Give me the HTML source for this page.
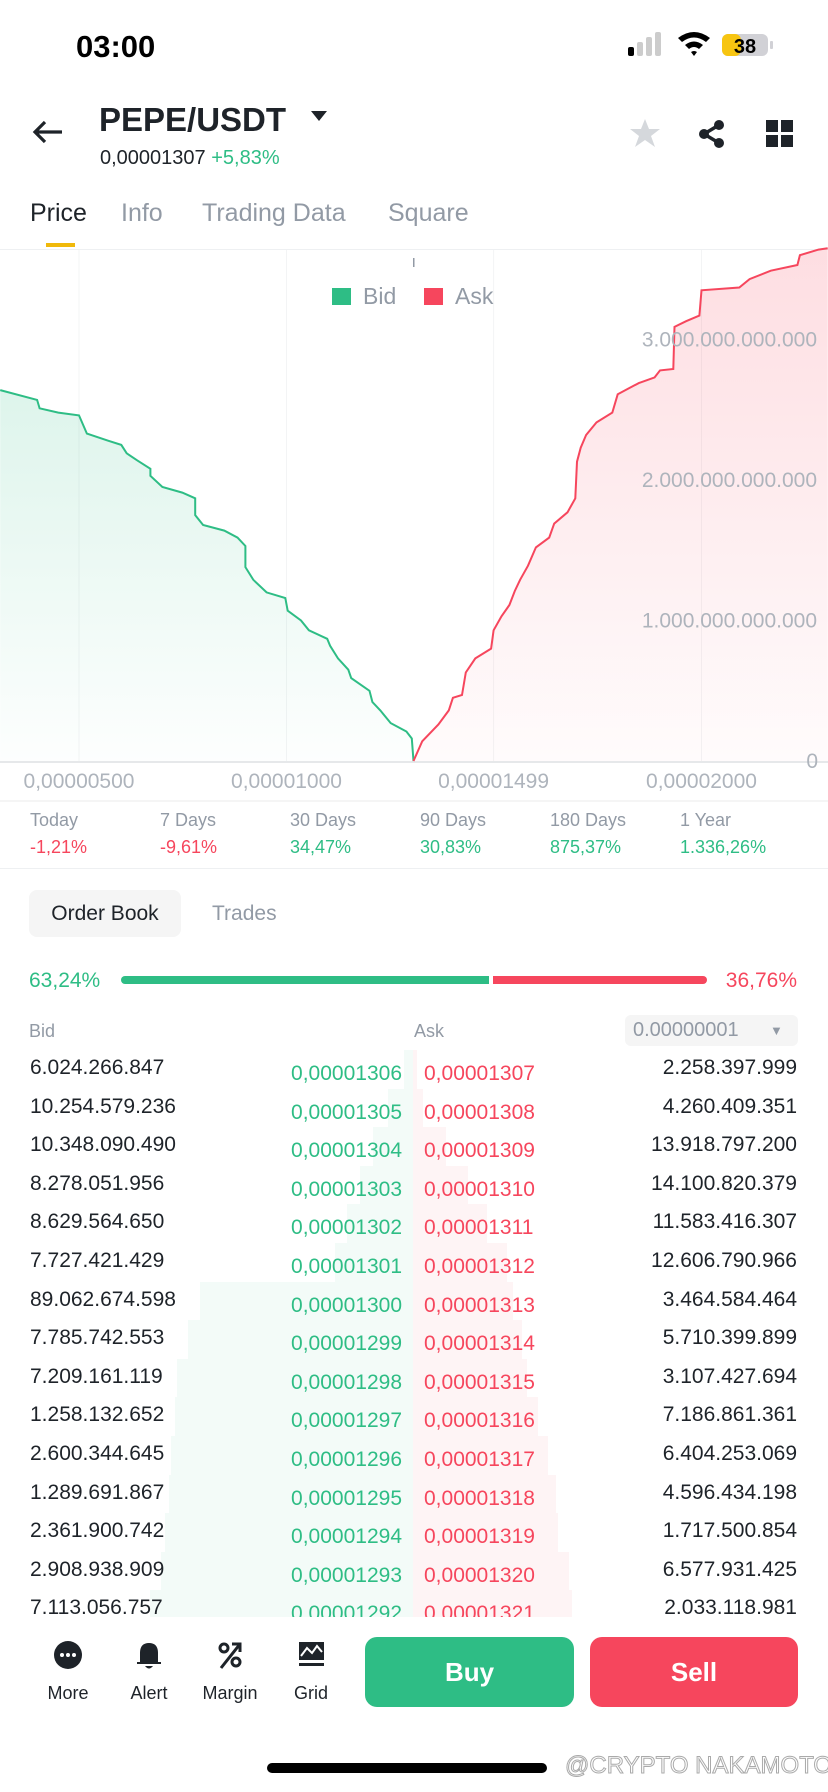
<!DOCTYPE html>
<html><head><meta charset="utf-8"><style>
*{margin:0;padding:0;box-sizing:border-box}
body{width:828px;height:1792px;background:#fff;font-family:"Liberation Sans",sans-serif;position:relative;overflow:hidden;color:#1E2329}
.a{position:absolute;white-space:nowrap}
.g{color:#2EBD85}.r{color:#F6465D}.m{color:#929AA5}
.row{position:absolute;left:0;width:828px;height:38.6px;font-size:21px;line-height:38.6px}
</style></head><body>
<div class="a" style="left:76px;top:29px;font-size:31px;font-weight:bold;color:#000">03:00</div>
<svg class="a" style="left:620px;top:30px" width="160" height="34">
<rect x="8" y="17" width="6" height="9" rx="2" fill="#000"/><rect x="17" y="12" width="6" height="14" rx="2" fill="#ccc"/><rect x="26" y="7" width="6" height="19" rx="2" fill="#ccc"/><rect x="35" y="2" width="6" height="24" rx="2" fill="#ccc"/>
<path d="M58 8 Q74 -4 90 8 L86 12 Q74 3 62 12Z M65 15 Q74 8 83 15 L79 19 Q74 15 69 19Z M71 22 L74 26 L77 22 Q74 20 71 22Z" fill="#000"/>
<rect x="102" y="4" width="46" height="22" rx="6" fill="#d1d1d6"/><rect x="102" y="4" width="19" height="22" rx="6" fill="#F7C511"/><rect x="150" y="11" width="3" height="8" rx="1" fill="#d1d1d6"/>
<text x="125" y="23" font-size="20" font-weight="bold" text-anchor="middle" font-family="Liberation Sans">38</text></svg>
<svg class="a" style="left:32px;top:120px" width="32" height="24"><path d="M3 12H30M13 2L3 12L13 22" stroke="#1E2329" stroke-width="3.2" fill="none"/></svg>
<div class="a" style="left:99px;top:101px;font-size:33px;font-weight:bold">PEPE/USDT</div>
<svg class="a" style="left:311px;top:111px" width="16" height="12"><path d="M0 0H16L8 10Z" fill="#1E2329"/></svg>
<div class="a" style="left:100px;top:147px;font-size:20px">0,00001307 <span class="g">+5,83%</span></div>
<svg class="a" style="left:629px;top:118px" width="32" height="30"><path d="M16 1L20 11L31 11L22 18L26 29L16 22L6 29L10 18L1 11L12 11Z" fill="#D5D8DC"/></svg>
<svg class="a" style="left:697px;top:119px" width="30" height="30"><circle cx="22" cy="6" r="5" fill="#1E2329"/><circle cx="7" cy="15" r="5" fill="#1E2329"/><circle cx="22" cy="24" r="5" fill="#1E2329"/><path d="M22 6L7 15L22 24" stroke="#1E2329" stroke-width="3.5" fill="none"/></svg>
<svg class="a" style="left:766px;top:120px" width="28" height="28"><rect x="0" y="0" width="12" height="12" fill="#1E2329"/><rect x="15" y="0" width="12" height="12" fill="#1E2329"/><rect x="0" y="15" width="12" height="12" fill="#1E2329"/><rect x="15" y="15" width="12" height="12" fill="#1E2329"/></svg>
<div class="a" style="left:30px;top:199px;font-size:25px">Price</div>
<div class="a m" style="left:121px;top:199px;font-size:25px">Info</div>
<div class="a m" style="left:202px;top:199px;font-size:25px">Trading Data</div>
<div class="a m" style="left:388px;top:199px;font-size:25px">Square</div>
<div class="a" style="left:46px;top:243px;width:29px;height:4px;background:#F0B90B"></div>
<div class="a" style="left:0;top:249px;width:828px;height:1px;background:#EEF0F2"></div>

<svg class="a" id="chart" style="left:0;top:0" width="828" height="810" font-family="Liberation Sans">
<defs><linearGradient id="gg" x1="0" y1="0" x2="0" y2="1"><stop offset="0" stop-color="#2EBD85" stop-opacity="0.16"/><stop offset="1" stop-color="#2EBD85" stop-opacity="0.01"/></linearGradient>
<linearGradient id="rg" x1="0" y1="0" x2="0" y2="1"><stop offset="0" stop-color="#F6465D" stop-opacity="0.18"/><stop offset="1" stop-color="#F6465D" stop-opacity="0.02"/></linearGradient></defs>
<g id="grid"></g><g id="marks"></g><g id="labels"></g>
<rect x="413" y="258" width="1.5" height="9" fill="#929AA5"/>
<rect x="332" y="288" width="19" height="17" fill="#2EBD85"/>
<text x="363" y="304" font-size="23" fill="#929AA5">Bid</text>
<rect x="424" y="288" width="19" height="17" fill="#F6465D"/>
<text x="455" y="304" font-size="23" fill="#929AA5">Ask</text>
</svg>
<div class="a" style="left:0;top:800px;width:828px;height:2px;background:#F5F5F5"></div>

<div id="stats"></div>
<div class="a" style="left:0;top:868px;width:828px;height:1px;background:#EEF0F2"></div>
<div class="a" style="left:29px;top:890px;width:152px;height:47px;border-radius:8px;background:#F5F5F5;font-size:21px;line-height:47px;text-align:center">Order Book</div>
<div class="a m" style="left:212px;top:890px;font-size:21px;line-height:47px">Trades</div>
<div class="a g" style="left:29px;top:969px;font-size:21px">63,24%</div>
<div class="a" style="left:121px;top:976px;width:368px;height:8px;border-radius:4px 0 0 4px;background:#2EBD85"></div>
<div class="a" style="left:493px;top:976px;width:214px;height:8px;border-radius:0 4px 4px 0;background:#F6465D"></div>
<div class="a r" style="right:31px;top:969px;font-size:21px">36,76%</div>
<div class="a m" style="left:29px;top:1021px;font-size:18px">Bid</div>
<div class="a m" style="left:414px;top:1021px;font-size:18px">Ask</div>
<div class="a m" style="left:625px;top:1015px;width:173px;height:31px;border-radius:6px;background:#F5F5F5;font-size:20px;line-height:31px;padding-left:8px">0.00000001<span style="position:absolute;left:145px;top:0;font-size:13px">▼</span></div>
<div id="book" class="a" style="left:0;top:1050px;width:828px;height:567px;overflow:hidden"></div>

<div id="tools"></div>
<div class="a" style="left:365px;top:1637px;width:209px;height:70px;border-radius:12px;background:#2EBD85;color:#fff;font-size:26px;font-weight:bold;text-align:center;line-height:70px">Buy</div>
<div class="a" style="left:590px;top:1637px;width:208px;height:70px;border-radius:12px;background:#F6465D;color:#fff;font-size:26px;font-weight:bold;text-align:center;line-height:70px">Sell</div>
<div class="a" style="left:267px;top:1763px;width:280px;height:10px;border-radius:5px;background:#000"></div>
<div class="a" style="left:565px;top:1752px;font-size:24px;color:#fff;-webkit-text-stroke:1px #aaa">@CRYPTO NAKAMOTO</div>

<script>
// depth chart data (price in 1e-8 units, cumulative in trillions)
const bidPrices=[310,399,405,450,500,519,570,602,615,640,672,672,701,749,780,780,799,850,882,901,901,920,952,997,1003,1035,1054,1098,1105,1124,1149,1156,1200,1207,1226,1251,1289,1302,1306];
const bidDepth=[2.64,2.57,2.51,2.48,2.46,2.33,2.28,2.25,2.19,2.14,2.08,2.03,1.95,1.91,1.87,1.75,1.68,1.64,1.59,1.53,1.38,1.29,1.20,1.16,1.07,1.0,0.93,0.87,0.82,0.73,0.65,0.59,0.50,0.42,0.36,0.27,0.21,0.16,0];
const askPrices=[1306,1327,1366,1391,1401,1423,1432,1455,1493,1499,1518,1537,1550,1563,1582,1601,1633,1645,1677,1696,1700,1709,1722,1747,1785,1798,1823,1849,1887,1900,1932,1935,1963,1995,2000,2091,2116,2167,2231,2237,2282,2304];
const askDepth=[0,0.14,0.26,0.36,0.45,0.47,0.63,0.73,0.80,0.93,1.03,1.11,1.21,1.29,1.39,1.52,1.59,1.69,1.77,1.87,2.13,2.23,2.32,2.41,2.48,2.61,2.65,2.69,2.73,2.78,2.79,3.09,3.13,3.17,3.35,3.37,3.43,3.49,3.53,3.60,3.64,3.65];
const xTicks=[500,1000,1499,2000];
const xTickLabels=["0,00000500","0,00001000","0,00001499","0,00002000"];
const yTicks=[0,1,2,3];
const yTickLabels=["0","1.000.000.000.000","2.000.000.000.000","3.000.000.000.000"];
// stats
const statNames=["Today","7 Days","30 Days","90 Days","180 Days","1 Year"];
const statValues=["-1,21%","-9,61%","34,47%","30,83%","875,37%","1.336,26%"];
// order book
const bidQty=["6.024.266.847","10.254.579.236","10.348.090.490","8.278.051.956","8.629.564.650","7.727.421.429","89.062.674.598","7.785.742.553","7.209.161.119","1.258.132.652","2.600.344.645","1.289.691.867","2.361.900.742","2.908.938.909","7.113.056.757"];
const bidPx=["0,00001306","0,00001305","0,00001304","0,00001303","0,00001302","0,00001301","0,00001300","0,00001299","0,00001298","0,00001297","0,00001296","0,00001295","0,00001294","0,00001293","0,00001292"];
const askPx=["0,00001307","0,00001308","0,00001309","0,00001310","0,00001311","0,00001312","0,00001313","0,00001314","0,00001315","0,00001316","0,00001317","0,00001318","0,00001319","0,00001320","0,00001321"];
const askQty=["2.258.397.999","4.260.409.351","13.918.797.200","14.100.820.379","11.583.416.307","12.606.790.966","3.464.584.464","5.710.399.899","3.107.427.694","7.186.861.361","6.404.253.069","4.596.434.198","1.717.500.854","6.577.931.425","2.033.118.981"];

const NS="http://www.w3.org/2000/svg";
const X=p=>79+(p-500)/500*207.5;
const Y=v=>761-v*140.5;
function mk(tag,attrs,parent){const e=document.createElementNS(NS,tag);for(const k in attrs)e.setAttribute(k,attrs[k]);parent.appendChild(e);return e;}
const grid=document.getElementById('grid'),marks=document.getElementById('marks'),labels=document.getElementById('labels');
xTicks.forEach((t,i)=>{
  const l=mk('line',{x1:X(t),x2:X(t),y1:250,y2:761,stroke:'#F3F4F5','stroke-width':1},grid);
  
  
  const tx=mk('text',{x:X(t),y:788,'font-size':21,fill:'#AEB4BC','text-anchor':'middle'},labels);
  tx.textContent=xTickLabels[i];
  
  
});
const base=mk('line',{x1:0,x2:828,y1:762,y2:762,stroke:'#E6E8EA','stroke-width':2},grid);


yTicks.forEach((t,i)=>{
  const tx=mk('text',{x:t===0?818:817,y:Y(t)+7,'font-size':21,fill:'#AEB4BC','text-anchor':'end'},labels);
  tx.textContent=yTickLabels[i];
  
  
});
function draw(px,dv,col,grad,name){
  const pts=px.map((p,i)=>[X(p),Y(dv[i])]);
  const s=pts.map(p=>p[0].toFixed(1)+','+p[1].toFixed(1)).join(' ');
  const area=mk('polygon',{points:s+' '+pts[pts.length-1][0].toFixed(1)+',761 '+pts[0][0].toFixed(1)+',761',fill:'url(#'+grad+')'},marks);
  
  
  const ln=mk('polyline',{points:s,fill:'none',stroke:col,'stroke-width':2,'stroke-linejoin':'miter'},marks);
  
  
}
draw(bidPrices,bidDepth,'#2EBD85','gg','bid');
draw(askPrices,askDepth,'#F6465D','rg','ask');

const stats=document.getElementById('stats');
statNames.forEach((n,i)=>{
  const x=30+i*130;
  const a=document.createElement('div');a.className='a m';a.style.cssText='left:'+x+'px;top:810px;font-size:18px';a.textContent=n;
  
  
  stats.appendChild(a);
  const b=document.createElement('div');b.className='a '+(statValues[i][0]==='-'?'r':'g');b.style.cssText='left:'+x+'px;top:837px;font-size:18px';b.textContent=statValues[i];
  
  
  stats.appendChild(b);
});

const book=document.getElementById('book');
const num=s=>parseFloat(s.replace(/\./g,''))/1e9;
let cb=0,ca=0;
bidQty.forEach((q,i)=>{
  cb+=num(q);ca+=num(askQty[i]);
  const r=document.createElement('div');r.className='row';r.style.top=(i*38.6)+'px';
  
  
  const wb=Math.min(cb*1.52,413),wa=Math.min(ca*1.6,415);
  r.innerHTML='<div class="a" style="left:'+(413-wb)+'px;top:0;width:'+wb+'px;height:38.6px;background:#F3FBF8"></div>'+
   '<div class="a" style="left:413px;top:0;width:'+wa+'px;height:38.6px;background:#FEF4F5"></div>'+
   '<div class="a" style="left:30px;top:-1px">'+q+'</div>'+
   '<div class="a g" style="right:426px;top:5px">'+bidPx[i]+'</div>'+
   '<div class="a r" style="left:424px;top:5px">'+askPx[i]+'</div>'+
   '<div class="a" style="right:31px;top:-1px">'+askQty[i]+'</div>';
  book.appendChild(r);
});

const toolNames=["More","Alert","Margin","Grid"];
const toolIcons=['<circle cx="15" cy="15" r="14" fill="#1E2329"/><circle cx="9" cy="15" r="2" fill="#fff"/><circle cx="15" cy="15" r="2" fill="#fff"/><circle cx="21" cy="15" r="2" fill="#fff"/>',
'<path d="M6 22V13Q6 3 15 3Q24 3 24 13V22H27V24H3V22Z" fill="#1E2329"/><path d="M11 26Q15 31 19 26Z" fill="#1E2329"/>',
'<circle cx="9" cy="8" r="4" fill="none" stroke="#1E2329" stroke-width="3"/><circle cx="21" cy="22" r="4" fill="none" stroke="#1E2329" stroke-width="3"/><path d="M6 28L25 4M17 4H25V12" stroke="#1E2329" stroke-width="3" fill="none"/>',
'<rect x="3" y="2" width="25" height="18" fill="#1E2329"/><path d="M5 16L11 8L16 13L21 6L26 12" stroke="#fff" stroke-width="2" fill="none"/><rect x="3" y="23" width="25" height="3" fill="#1E2329"/>'];
const tools=document.getElementById('tools');
toolNames.forEach((n,i)=>{
  const cx=68+i*81;
  const d=document.createElement('div');d.className='a';d.style.cssText='left:'+(cx-40)+'px;top:1640px;width:80px;text-align:center';
  
  
  d.innerHTML='<svg width="30" height="32" viewBox="0 0 30 32">'+toolIcons[i]+'</svg><div style="font-size:18px;margin-top:6px">'+n+'</div>';
  tools.appendChild(d);
});
</script>
</body></html>
